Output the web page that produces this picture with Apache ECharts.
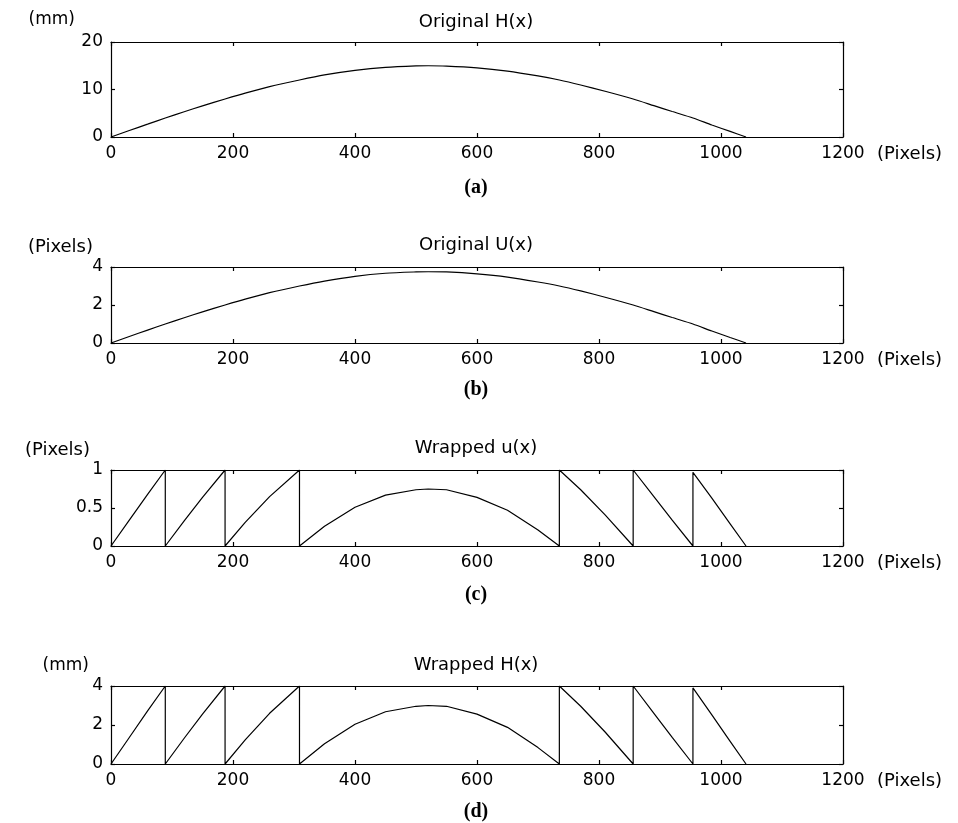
<!DOCTYPE html>
<html>
<head>
<meta charset="utf-8">
<script src="https://cdn.jsdelivr.net/npm/echarts@6/dist/echarts.min.js"></script>
<style>
html,body{margin:0;padding:0;background:#fff;}
#c{width:958px;height:823px;}
</style>
</head>
<body>
<div id="c"></div>
<script>
// ---- data ----
const xOrig = [0,30,60,89,120,150,187,220,260,309,350,400,450,500,520,550,600,650,700,735,770,810,856,890,920,954,985,1015,1041];
const hOrig = [0,1.36,2.70,4.0,5.31,6.56,8.0,9.24,10.6,12.0,13.06,14.02,14.66,14.97,15.0,14.94,14.57,13.87,12.85,12.0,10.95,9.63,8.0,6.60,5.36,4.0,2.52,1.18,0];
const uOrig = [0,0.34,0.68,1.0,1.33,1.64,2.0,2.31,2.65,3.0,3.26,3.51,3.67,3.74,3.75,3.74,3.64,3.47,3.21,3.0,2.74,2.41,2.0,1.65,1.34,1.0,0.63,0.29,0];
const xWrap = [0,30,60,89,89,120,150,187,187,220,260,309,309,350,400,450,500,520,550,600,650,700,735,735,770,810,856,856,890,920,954,954,985,1015,1041];
const uWrap = [0,0.34,0.68,1,0,0.33,0.64,1,0,0.31,0.65,1,0,0.26,0.51,0.67,0.74,0.75,0.74,0.64,0.47,0.21,0,1,0.74,0.41,0,1,0.65,0.34,0,0.97,0.63,0.29,0];
const hWrap = [0,1.36,2.72,4,0,1.32,2.56,4,0,1.24,2.6,4,0,1.04,2.04,2.68,2.96,3.0,2.96,2.56,1.88,0.84,0,4,2.96,1.64,0,4,2.6,1.36,0,3.9,2.52,1.16,0];

const panelTitles = ['Original H(x)','Original U(x)','Wrapped u(x)','Wrapped H(x)'];
const panelCaptions = ['(a)','(b)','(c)','(d)'];
const yUnits = ['(mm)','(Pixels)','(Pixels)','(mm)'];
const xUnit = '(Pixels)';
const yMax = [20,4,1,4];
const yStep = [10,2,0.5,2];
const xMax = 1200, xStep = 200;

// ---- layout ----
const gridTops = [42,267,470,686];
const gridHeights = [95,76,76,78];
const L = 111, R = 115;
const SANS = 'DejaVu Sans';

const chart = echarts.init(document.getElementById('c'), null, {renderer:'canvas'});

const grids = [], xAxes = [], yAxes = [], series = [];
const pairs = [
  [xOrig,hOrig],[xOrig,uOrig],[xWrap,uWrap],[xWrap,hWrap]
];
const fmt = v => String(v);
for (let i=0;i<4;i++){
  grids.push({left:L,right:R,top:gridTops[i],height:gridHeights[i],containLabel:false});
  const lineS = {show:true,onZero:false,lineStyle:{color:'#000',width:1.2}};
  const tickS = {show:true,inside:true,length:4,lineStyle:{color:'#000',width:1.2}};
  xAxes.push({type:'value',gridIndex:i,min:0,max:xMax,interval:xStep,position:'bottom',
    axisLine:lineS,axisTick:tickS,splitLine:{show:false},
    axisLabel:{color:'#000',fontFamily:SANS,fontSize:17,margin:8,formatter:fmt}});
  xAxes.push({type:'value',gridIndex:i,min:0,max:xMax,interval:xStep,position:'top',
    axisLine:lineS,axisTick:tickS,splitLine:{show:false},axisLabel:{show:false}});
  yAxes.push({type:'value',gridIndex:i,min:0,max:yMax[i],interval:yStep[i],position:'left',
    axisLine:lineS,axisTick:tickS,splitLine:{show:false},
    axisLabel:{color:'#000',fontFamily:SANS,fontSize:17,margin:8,formatter:fmt}});
  yAxes.push({type:'value',gridIndex:i,min:0,max:yMax[i],interval:yStep[i],position:'right',
    axisLine:lineS,axisTick:tickS,splitLine:{show:false},axisLabel:{show:false}});
  const [xs,ys] = pairs[i];
  series.push({type:'line',xAxisIndex:2*i,yAxisIndex:2*i,symbol:'none',silent:true,
    smooth: i < 2 ? 0.25 : false,
    lineStyle:{color:'#000',width:1.2},data:xs.map((x,k)=>[x,ys[k]])});
}

const txt = (x,y,s,opt)=>Object.assign({type:'text',x:x,y:y,silent:true,
  style:Object.assign({text:s,fill:'#000',font:'17px "DejaVu Sans"',textAlign:'center',textVerticalAlign:'middle'},opt||{})});
const graphics = [];
const titleY = [22,245,448,665];
const capY = [188,390,595,812];
const unitY = [20,247,450,666];
const unitRight = [75,93,90,89];
for (let i=0;i<4;i++){
  graphics.push(txt(476,titleY[i],panelTitles[i],{font:'18px "DejaVu Sans"'}));
  graphics.push(txt(476,capY[i],panelCaptions[i],{font:'bold 20px "Liberation Serif"'}));
  graphics.push(txt(unitRight[i],unitY[i],yUnits[i],{textAlign:'right',font:(yUnits[i]==='(mm)'?'17px':'18px')+' "DejaVu Sans"'}));
  graphics.push(txt(877,gridTops[i]+gridHeights[i]+17,xUnit,{textAlign:'left',font:'18px "DejaVu Sans"'}));
}

chart.setOption({
  animation:false,
  backgroundColor:'#fff',
  grid:grids, xAxis:xAxes, yAxis:yAxes, series:series,
  graphic:graphics
});
</script>
</body>
</html>
